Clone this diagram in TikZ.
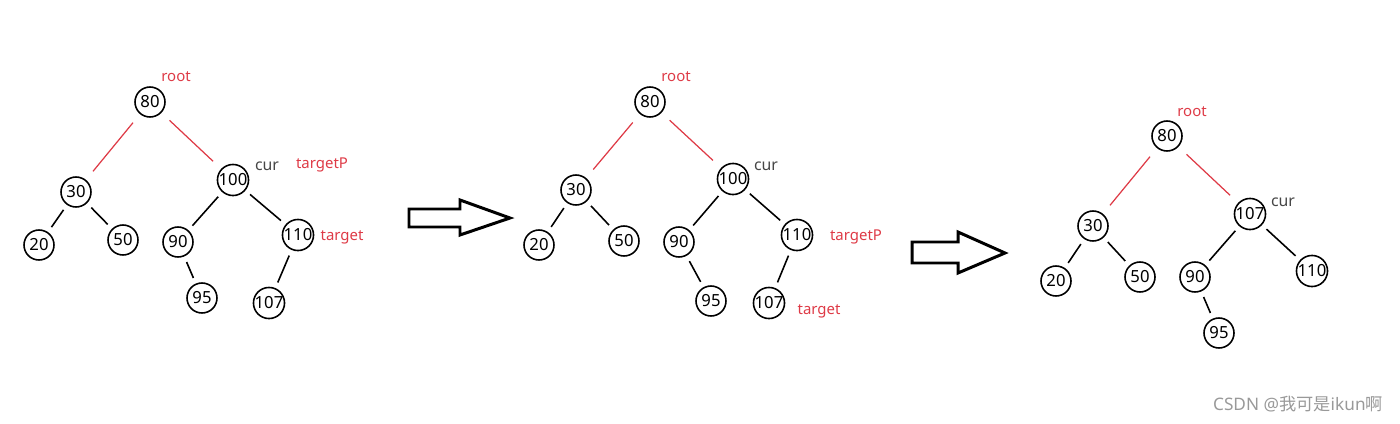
\documentclass[tikz,border=0pt]{standalone}
\usepackage{fontspec}
\setmainfont{Noto Sans}
\newfontfamily\cjk{Noto Sans CJK SC}
\usepackage{xcolor}
\usetikzlibrary{positioning, calc}

\definecolor{redline}{RGB}{222,58,70}
\definecolor{curgray}{RGB}{70,70,70}

\begin{document}
\begin{tikzpicture}[
    x=0.02cm, y=-0.02cm,
    treenode/.style={circle, draw=black, line width=0.9pt, minimum size=0.6cm, inner sep=0pt, font=\fontsize{9.5}{11}\selectfont},
    edge/.style={draw=black, line width=0.9pt, shorten <=0.12cm, shorten >=0.12cm},
    redge/.style={draw=redline, line width=0.7pt, shorten <=0.22cm, shorten >=0.22cm},
    redlbl/.style={text=redline, inner sep=0pt, font=\fontsize{8.5}{10}\selectfont},
    curlbl/.style={text=curgray, inner sep=0pt, font=\fontsize{9}{10}\selectfont},
    blockarrow/.style={draw=black, line width=1.7pt, miter limit=20}
]
    \useasboundingbox (0,0) rectangle (1400,423);

    % Tree 1
    \node (a80) [treenode] at (150,102) {80};
    \node (a30) [treenode] at (76,192) {30};
    \node (a100) [treenode] at (233,180) {100};
    \node (a20) [treenode] at (39,245) {20};
    \node (a50) [treenode] at (123,240) {50};
    \node (a90) [treenode] at (178,242) {90};
    \node (a110) [treenode] at (298,235) {110};
    \node (a95) [treenode] at (202,298) {95};
    \node (a107) [treenode] at (269,303) {107};
    \node (aroot) [redlbl] at (176,77) {root};
    \node (acur) [curlbl] at (267,166) {cur};
    \node (atp) [redlbl] at (322,165) {targetP};
    \node (atg) [redlbl] at (342,237) {target};

    \draw [redge] (a80) -- (a30);
    \draw [redge] (a80) -- (a100);
    \draw [edge] (a30) -- (a20);
    \draw [edge] (a30) -- (a50);
    \draw [edge] (a100) -- (a90);
    \draw [edge] (a100) -- (a110);
    \draw [edge] (a90) -- (a95);
    \draw [edge] (a110) -- (a107);

    % Arrow 1
    \coordinate (arr1) at (409,218);
    \draw [blockarrow] (arr1) ++(0,-9) -- ++(51,0) -- ++(0,-9) -- ++(50,18) -- ++(-50,17) -- ++(0,-8) -- ++(-51,0) -- cycle;

    % Tree 2
    \node (b80) [treenode] at (650,102) {80};
    \node (b30) [treenode] at (576,190) {30};
    \node (b100) [treenode] at (733,179) {100};
    \node (b20) [treenode] at (539,245) {20};
    \node (b50) [treenode] at (624,241) {50};
    \node (b90) [treenode] at (679,242) {90};
    \node (b110) [treenode] at (797,235) {110};
    \node (b95) [treenode] at (711,301) {95};
    \node (b107) [treenode] at (769,303) {107};
    \node (broot) [redlbl] at (676,77) {root};
    \node (bcur) [curlbl] at (766,166) {cur};
    \node (btp) [redlbl] at (856,237) {targetP};
    \node (btg) [redlbl] at (819,311) {target};

    \draw [redge] (b80) -- (b30);
    \draw [redge] (b80) -- (b100);
    \draw [edge] (b30) -- (b20);
    \draw [edge] (b30) -- (b50);
    \draw [edge] (b100) -- (b90);
    \draw [edge] (b100) -- (b110);
    \draw [edge] (b90) -- (b95);
    \draw [edge] (b110) -- (b107);

    % Arrow 2
    \coordinate (arr2) at (912,253);
    \draw [blockarrow] (arr2) ++(0,-11) -- ++(46,0) -- ++(0,-10) -- ++(47,21) -- ++(-47,20) -- ++(0,-10) -- ++(-46,0) -- cycle;

    % Tree 3
    \node (c80) [treenode] at (1167,136) {80};
    \node (c30) [treenode] at (1093,226) {30};
    \node (c107) [treenode] at (1250,214) {107};
    \node (c20) [treenode] at (1056,281) {20};
    \node (c50) [treenode] at (1140,277) {50};
    \node (c90) [treenode] at (1195,277) {90};
    \node (c110) [treenode] at (1312,271) {110};
    \node (c95) [treenode] at (1219,333) {95};
    \node (croot) [redlbl] at (1192,112) {root};
    \node (ccur) [curlbl] at (1283,202) {cur};

    \draw [redge] (c80) -- (c30);
    \draw [redge] (c80) -- (c107);
    \draw [edge] (c30) -- (c20);
    \draw [edge] (c30) -- (c50);
    \draw [edge] (c107) -- (c90);
    \draw [edge] (c107) -- (c110);
    \draw [edge] (c90) -- (c95);

    \node (mark) [text=black!40, inner sep=0pt, font=\fontsize{9.8}{11}\selectfont] at (1298,404) {CSDN @{\cjk 我可是}ikun{\cjk 啊}};
\end{tikzpicture}
\end{document}
